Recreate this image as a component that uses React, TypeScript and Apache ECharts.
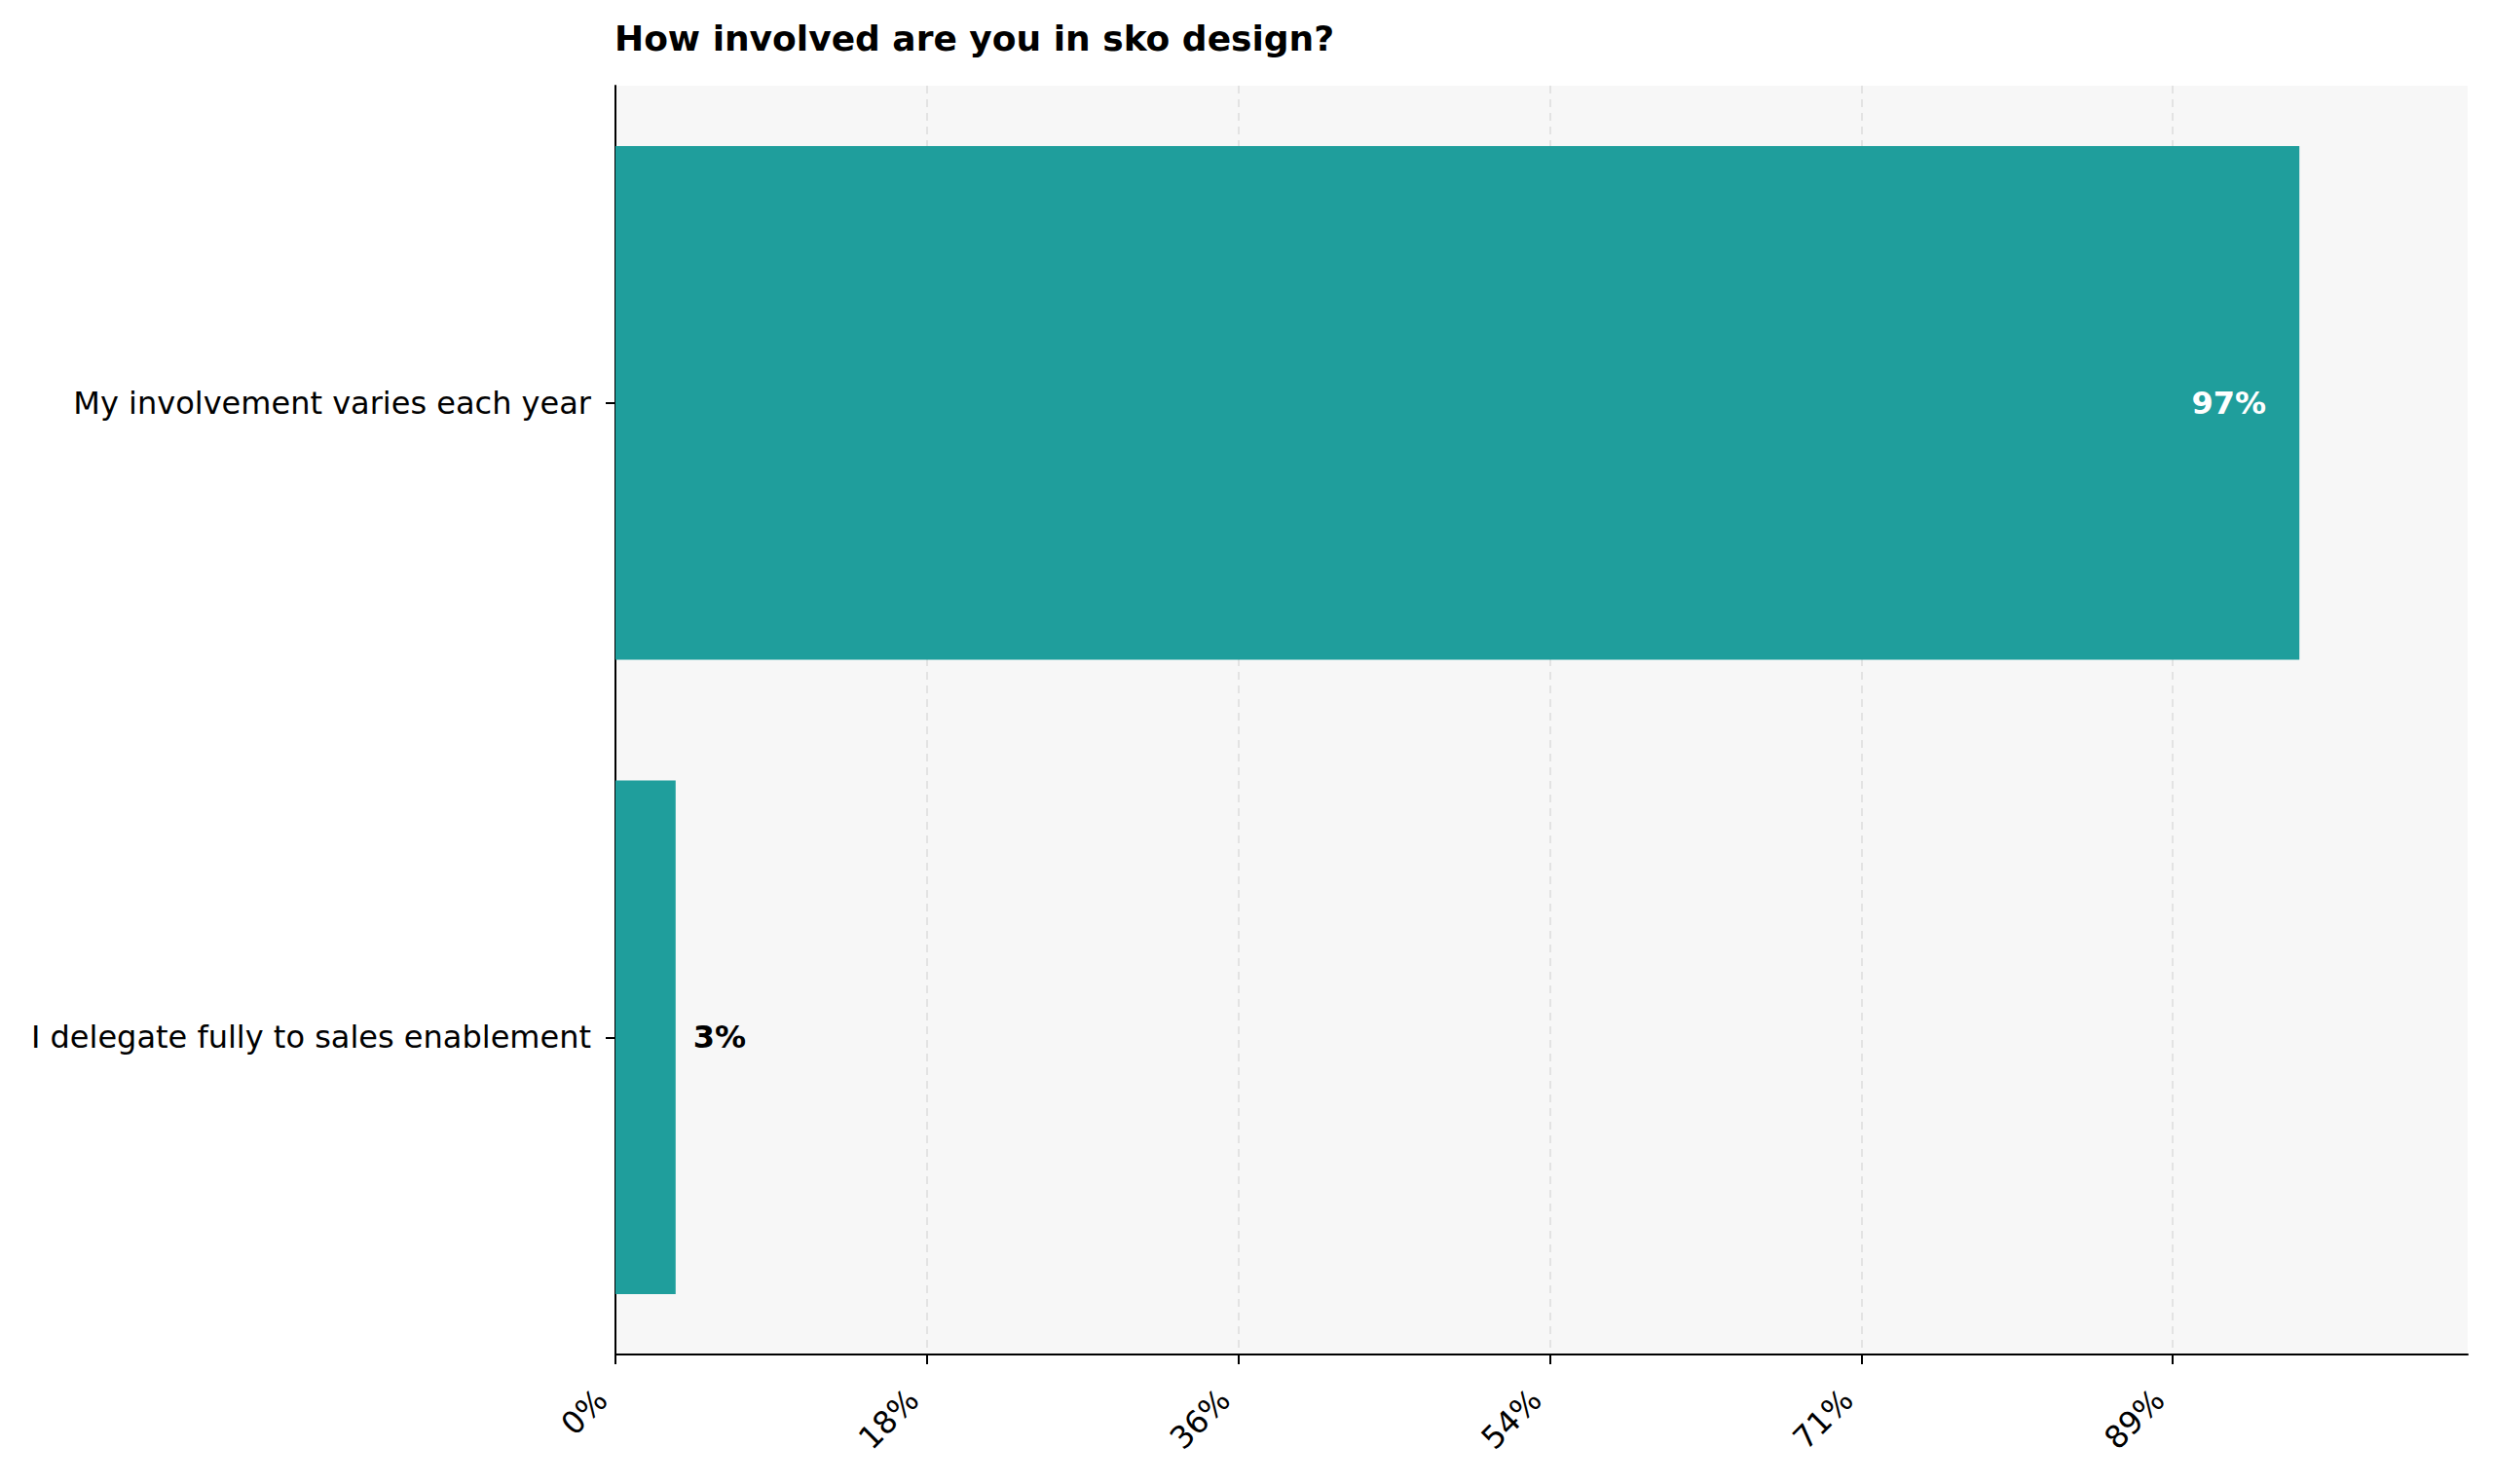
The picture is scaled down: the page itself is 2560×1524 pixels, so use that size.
import React, { useEffect, useRef } from "react";
import * as echarts from "echarts";

const categories = [
  "I delegate fully to sales enablement",
  "My involvement varies each year",
];
const values = [3.45, 96.55];
const valueLabels = ["3%", "97%"];
const xTickValues = [0, 17.857, 35.714, 53.571, 71.429, 89.286];
const xTickLabels = ["0%", "18%", "36%", "54%", "71%", "89%"];
const xMax = 106.2;
const titleText = "How involved are you in sko design?";

const FONT = "DejaVu Sans";

export default function App() {
  const ref = useRef<HTMLDivElement>(null);
  useEffect(() => {
    document.body.style.margin = "0";
    if (!ref.current) return;
    const chart = echarts.init(ref.current, null, { renderer: "svg" });
    const labelFor = (v: number) => {
      const i = xTickValues.findIndex((t) => Math.abs(t - v) < 0.01);
      return i >= 0 ? xTickLabels[i] : "";
    };
    chart.setOption({
      animation: false,
      backgroundColor: "#ffffff",
      title: {
        text: titleText,
        left: 626,
        top: 16,
        textStyle: { fontFamily: FONT, fontWeight: "bold", fontSize: 36, color: "#000" },
      },
      grid: {
        left: 632,
        right: 26,
        top: 88,
        bottom: 133,
        show: true,
        backgroundColor: "#f7f7f7",
        borderWidth: 0,
      },
      xAxis: {
        type: "value",
        min: 0,
        max: xMax,
        axisLine: { show: true, lineStyle: { color: "#000", width: 2 } },
        axisTick: {
          show: true,
          length: 10,
          lineStyle: { color: "#000", width: 2 },
          customValues: xTickValues,
        },
        axisLabel: {
          customValues: xTickValues,
          formatter: (v: number) => labelFor(v),
          rotate: 45,
          margin: 27,
          padding: [0, 20, 0, 0],
          fontFamily: FONT,
          fontSize: 32,
          color: "#000",
        },
        splitLine: {
          show: true,
          lineStyle: { color: "#dedede", width: 1.6, type: [8, 6] },
        },
      },
      yAxis: {
        type: "category",
        data: categories,
        axisLine: { show: true, lineStyle: { color: "#000", width: 2 } },
        axisTick: {
          show: true,
          alignWithLabel: true,
          length: 10,
          lineStyle: { color: "#000", width: 2 },
        },
        axisLabel: {
          margin: 25,
          fontFamily: FONT,
          fontSize: 32,
          color: "#000",
        },
        splitLine: { show: false },
      },
      series: [
        {
          type: "bar",
          barWidth: "81%",
          itemStyle: { color: "#1f9e9c" },
          data: values.map((v, i) => ({
            value: v,
            label: {
              show: true,
              position: v > 50 ? "insideRight" : "right",
              distance: v > 50 ? 34 : 18,
              formatter: valueLabels[i],
              color: v > 50 ? "#ffffff" : "#000000",
              fontFamily: FONT,
              fontWeight: "bold",
              fontSize: 32,
            },
          })),
        },
      ],
    });
    return () => chart.dispose();
  }, []);
  return <div ref={ref} style={{ width: 2560, height: 1524 }} />;
}
